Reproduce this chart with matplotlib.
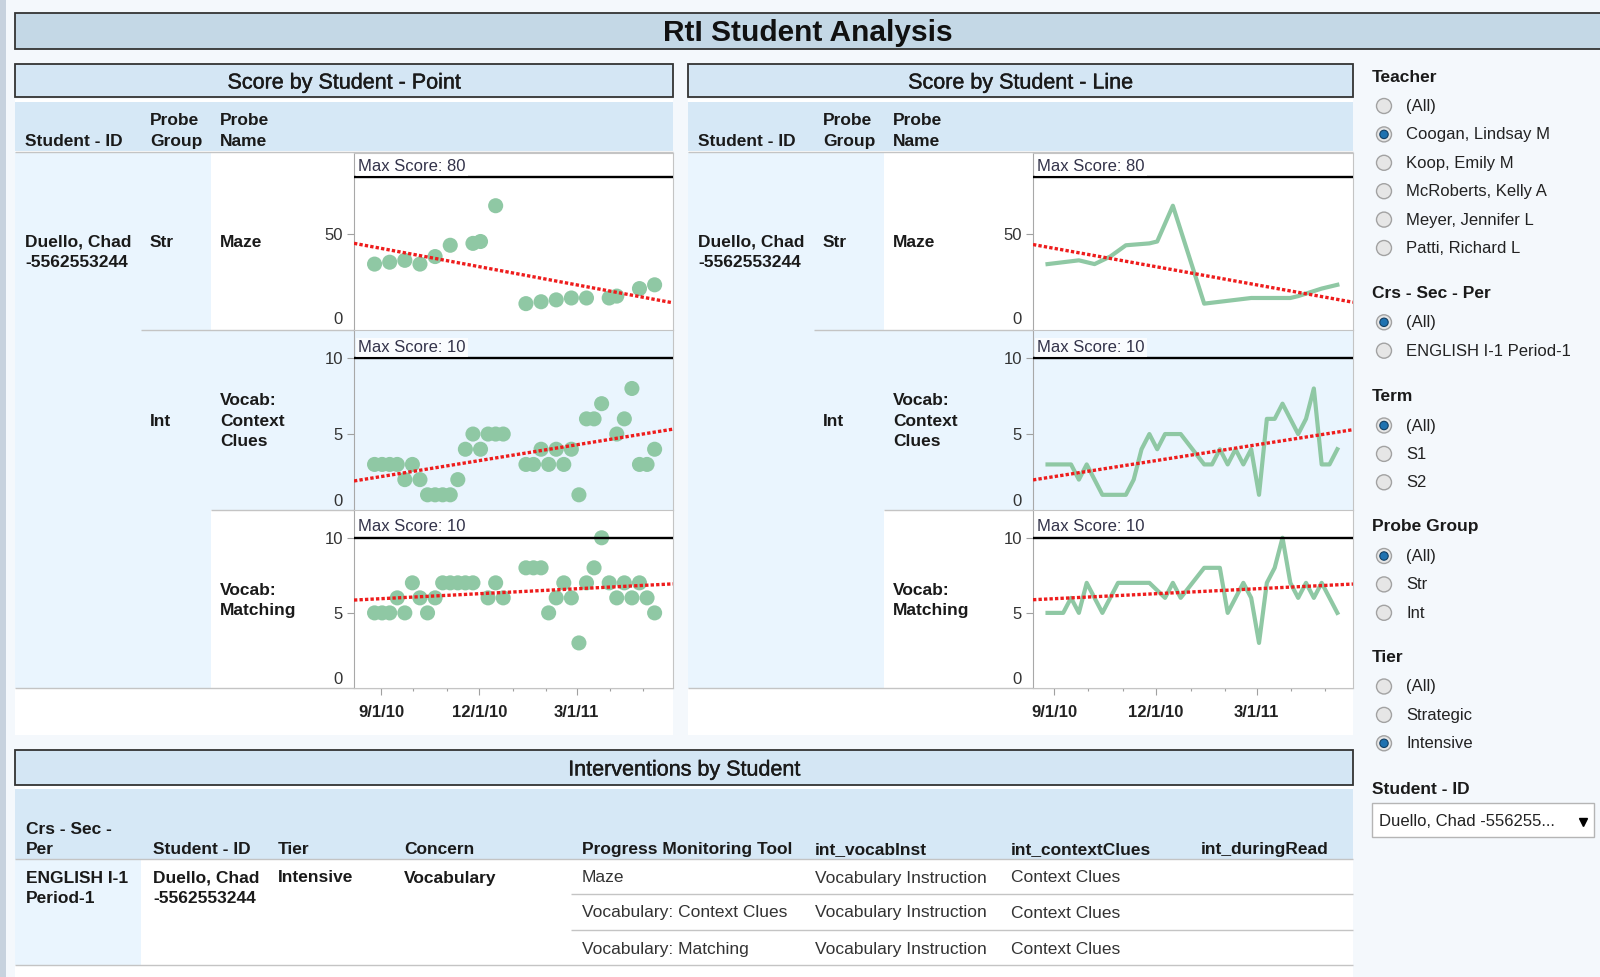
import datetime as dt

import matplotlib
matplotlib.use("Agg")
from matplotlib import pyplot as plt
from matplotlib.patches import Rectangle, Circle
from matplotlib.ticker import FuncFormatter
import matplotlib.dates as mdates
import matplotlib.transforms as mtransforms
import matplotlib.patheffects as pe
import numpy as np

plt.rcParams['font.family'] = ['Liberation Sans', 'DejaVu Sans']

W, H = 1600, 977

# ---- data ----
start_date = dt.date(2010, 8, 26)  # week 0

maze_weeks = [0, 2, 4, 6, 8, 10, 13, 14, 16, 20, 22, 24, 26, 28, 31, 32, 35, 37]
maze_scores = [34, 35, 36, 34, 38, 44, 45, 46, 65, 13, 14, 15, 16, 16, 16, 17, 21, 23]

context_weeks = list(range(0, 18)) + list(range(20, 31)) + list(range(32, 38))
context_scores = [3, 3, 3, 3, 2, 3, 2, 1, 1, 1, 1, 2, 4, 5, 4, 5, 5, 5,
                  3, 3, 4, 3, 4, 3, 4, 1, 6, 6, 7,
                  5, 6, 8, 3, 3, 4]

matching_weeks = list(range(0, 14)) + [15, 16, 17] + list(range(20, 38))
matching_scores = [5, 5, 5, 6, 5, 7, 6, 5, 6, 7, 7, 7, 7, 7,
                   6, 7, 6,
                   8, 8, 8, 5, 6, 7, 6, 3, 7, 8, 10, 7, 6, 7, 6, 7, 6, 5]

probe_labels = ["Maze", "Vocab:\nContext\nClues", "Vocab:\nMatching"]
probe_groups = ["Str", "Int"]
max_scores = [80, 10, 10]
y_ticks = [[0, 50], [0, 5, 10], [0, 5, 10]]
student = "Duello, Chad\n-5562553244"

teachers = ["(All)", "Coogan, Lindsay M", "Koop, Emily M", "McRoberts, Kelly A",
            "Meyer, Jennifer L", "Patti, Richard L"]
sections = ["(All)", "ENGLISH I-1 Period-1"]
terms = ["(All)", "S1", "S2"]
groups_filter = ["(All)", "Str", "Int"]
tiers = ["(All)", "Strategic", "Intensive"]

table_cols = ["Crs - Sec -\nPer", "Student - ID", "Tier", "Concern", "Progress Monitoring Tool",
              "int_vocabInst", "int_contextClues", "int_duringRead"]
table_course = "ENGLISH I-1\nPeriod-1"
table_tier = "Intensive"
table_concern = "Vocabulary"
pm_tools = ["Maze", "Vocabulary: Context Clues", "Vocabulary: Matching"]
int_vocab = ["Vocabulary Instruction", "Vocabulary Instruction", "Vocabulary Instruction"]
int_context = ["Context Clues", "Context Clues", "Context Clues"]

# ---- colours ----
GREEN = '#8fc8a4'
RED = '#ee1c1c'
PAGE = '#f4f8fc'
TITLE_FC = '#c4d8e6'
HEAD_FC = '#d4e6f4'
BAND = '#d6e8f6'
CELL = '#eaf5fe'
GRID = '#c4c4c4'
TXT = '#1a1a1a'
LS = 1.45


def weeks_to_dates(weeks):
    return [start_date + dt.timedelta(weeks=w) for w in weeks]


series = [
    (weeks_to_dates(maze_weeks), maze_scores),
    (weeks_to_dates(context_weeks), context_scores),
    (weeks_to_dates(matching_weeks), matching_scores),
]

fig = plt.figure(figsize=(16, 9.77), dpi=100)
fig.patch.set_facecolor(PAGE)
bg = fig.add_axes([0, 0, 1, 1], zorder=0)
bg.set_xlim(0, W)
bg.set_ylim(H, 0)
bg.axis('off')


def box(x, y, w, h, fc, ec='none', lw=0, z=1):
    bg.add_patch(Rectangle((x, y), w, h, facecolor=fc, edgecolor=ec, linewidth=lw, zorder=z))


def hline(y, x0, x1, color=GRID, lw=1.0):
    bg.plot([x0, x1], [y, y], color=color, lw=lw, zorder=3, solid_capstyle='butt')


def label(x, y, s, size=12.5, weight='normal', ha='left', color=TXT, ls=LS, heavy=False):
    t = bg.text(x, y + 1.5, s, fontsize=size, fontweight=weight, ha=ha, va='center',
                color=color, zorder=5, linespacing=ls)
    if heavy:
        t.set_path_effects([pe.withStroke(linewidth=0.3, foreground=color)])
    return t


def px_axes(x, y, w, h):
    return fig.add_axes([x / W, 1 - (y + h) / H, w / W, h / H], zorder=2)


def date_fmt(x, pos):
    d = mdates.num2date(x)
    return f"{d.month}/{d.day}/{d.year % 100}"


# page frame
box(0, 0, 6, H, '#c7d2de')
box(15, 13, W - 10, 36, TITLE_FC, ec='#333333', lw=1.3, z=2)
label(808, 31.5, "RtI Student Analysis", size=21.5, weight='bold', ha='center', color='#111111')

panel_rows = [(153, 177), (330, 180), (510, 178)]
panel_bg = ['white', CELL, 'white']
ylims = [(-1, 93), (0, 11.85), (0, 11.85)]


def draw_sheet(x0, x1, plot_l, title, xlim, kind):
    box(x0, 64, x1 - x0, 33, HEAD_FC, ec='#333333', lw=1.3, z=2)
    label((x0 + x1) / 2, 81.5, title, size=15.5, ha='center', heavy=True)
    box(x0, 99, x1 - x0, 636, 'white')
    box(x0, 102, x1 - x0, 49, BAND)
    label(x0 + 10, 140, "Student - ID", weight='bold')
    label(x0 + 135, 129.5, "Probe\nGroup", weight='bold')
    label(x0 + 205, 129.5, "Probe\nName", weight='bold')
    # row header cells
    box(x0, 152, 196, 536, CELL, z=1.5)
    box(x0 + 196, 330, plot_l - x0 - 196, 180, CELL, z=1.5)
    hline(152, x0, x1)
    hline(330, x0 + 126, plot_l)
    hline(510, x0 + 196, plot_l)
    hline(688, x0, x1)
    label(x0 + 10, 251, student, weight='bold')
    label(x0 + 135, 241, probe_groups[0], weight='bold')
    label(x0 + 135, 419.5, probe_groups[1], weight='bold')
    label(x0 + 205, 241, probe_labels[0], weight='bold')
    label(x0 + 205, 419.5, probe_labels[1], weight='bold')
    label(x0 + 205, 599, probe_labels[2], weight='bold')

    for i, ((top, h), (dates, scores)) in enumerate(zip(panel_rows, series)):
        ax = px_axes(plot_l, top, x1 - plot_l, h)
        ax.set_facecolor(panel_bg[i])
        xs = mdates.date2num(dates)
        if kind == 'point':
            ax.scatter(dates, scores, s=118, color=GREEN, edgecolors='none', zorder=2)
        else:
            ax.plot(dates, scores, color=GREEN, lw=3, zorder=2)
        ax.set_xlim(mdates.date2num(xlim[0]), mdates.date2num(xlim[1]))
        ax.set_ylim(*ylims[i])
        coef = np.polyfit(xs, scores, 1)
        xl = np.array(ax.get_xlim())
        ax.plot(xl, np.polyval(coef, xl), color=RED, lw=2.4, linestyle=(0, (1, 0.65)), zorder=3)
        ax.axhline(max_scores[i], color='black', lw=1.7, zorder=3)
        ax.annotate(f"Max Score: {max_scores[i]}", xy=(0, max_scores[i]),
                    xycoords=('axes fraction', 'data'), xytext=(3, 2.5),
                    textcoords='offset points', ha='left', va='bottom', fontsize=12,
                    color='#33334a', zorder=4,
                    bbox=dict(boxstyle='square,pad=0.12', fc='white', ec='none', alpha=0.8))

        ax.set_yticks(y_ticks[i])
        ax.set_yticklabels([str(t) for t in y_ticks[i]])
        ax.tick_params(axis='y', direction='out', length=5, width=0.8, color='#a0a0a0',
                       labelsize=12, labelcolor='#333333', pad=3)
        zero = ax.yaxis.get_major_ticks()[0]
        zero.tick1line.set_visible(False)
        zero.label1.set_va('bottom')
        zero.label1.set_transform(zero.label1.get_transform()
                                  + mtransforms.ScaledTranslation(0, 1 / 72, fig.dpi_scale_trans))

        ax.spines['left'].set_color('#a8a8a8')
        ax.spines['right'].set_color(GRID)
        ax.spines['top'].set_color(GRID)
        last = i == len(series) - 1
        ax.spines['bottom'].set_visible(last)
        ax.spines['bottom'].set_color(GRID)
        if last:
            ax.xaxis.set_major_locator(mdates.MonthLocator(bymonth=[3, 9, 12]))
            ax.xaxis.set_minor_locator(mdates.MonthLocator())
            ax.xaxis.set_major_formatter(FuncFormatter(date_fmt))
            ax.tick_params(axis='x', which='major', length=5, width=0.8, color='#a0a0a0',
                           labelsize=12, labelcolor='#222222', pad=7)
            ax.tick_params(axis='x', which='minor', length=2.5, width=0.8, color='#a0a0a0')
            plt.setp(ax.get_xticklabels(), fontweight='bold')
        else:
            ax.tick_params(axis='x', which='both', bottom=False, labelbottom=False)


draw_sheet(15, 673, 354, "Score by Student - Point",
           (dt.date(2010, 8, 7), dt.date(2011, 5, 29)), 'point')
draw_sheet(688, 1353, 1033, "Score by Student - Line",
           (dt.date(2010, 8, 13), dt.date(2011, 5, 26)), 'line')

# ---- interventions table ----
box(15, 750, 1338, 35, HEAD_FC, ec='#333333', lw=1.3, z=2)
label(684, 768.5, "Interventions by Student", size=15.5, ha='center', heavy=True)
box(15, 786, 1338, H - 786, 'white')
box(15, 789, 1338, 70, BAND)
box(15, 859, 126, 106, CELL, z=1.5)
col_x = [25.5, 153, 277.5, 404, 581.5, 815, 1011, 1201]
for cx, name in zip(col_x, table_cols):
    if "\n" in name:
        label(cx, 838, name, weight='bold')
    else:
        label(cx, 848, name, weight='bold')
hline(859, 15, 1353)
hline(894, 571, 1353)
hline(930, 571, 1353)
hline(964.5, 15, 1353)
label(col_x[0], 887, table_course, weight='bold')
label(col_x[1], 887, student, weight='bold')
label(col_x[2], 876.5, table_tier, weight='bold')
label(col_x[3], 876.5, table_concern, weight='bold')
for ry, tool, v, c in zip([876.5, 911.5, 948], pm_tools, int_vocab, int_context):
    label(col_x[4], ry, tool, color='#333333')
    label(col_x[5], ry, v, color='#333333')
    label(col_x[6], ry, c, color='#333333')

# ---- filter panel ----
filters = [
    ("Teacher", teachers, 1, 75.5),
    ("Crs - Sec - Per", sections, 0, 291.8),
    ("Term", terms, 0, 395),
    ("Probe Group", groups_filter, 0, 525.5),
    ("Tier", tiers, 2, 656),
]
for title, items, sel, ty in filters:
    label(1371.5, ty, title, weight='bold')
    for k, item in enumerate(items):
        iy = ty + 30.5 + 28.4 * k
        bg.add_patch(Circle((1384, iy), 7.5, facecolor='#e6e6e6', edgecolor='#a2a2a2',
                            lw=1.0, zorder=4))
        if k == sel:
            bg.add_patch(Circle((1384, iy), 4.2, facecolor='#1f72b0', edgecolor='#123f63',
                                lw=0.8, zorder=5))
        label(1406, iy - 1, item, size=12, color='#222222')

label(1371.5, 787.7, "Student - ID", weight='bold')
box(1372, 803, 222, 34, 'white', ec='#b5b5b5', lw=1.0, z=2)
label(1379, 819.5, "Duello, Chad -556255...", size=12, color='#222222')
bg.plot([1583], [822], marker='v', color='black', markersize=6, zorder=5)

fig.savefig("out.png", dpi=100, facecolor=fig.get_facecolor())
